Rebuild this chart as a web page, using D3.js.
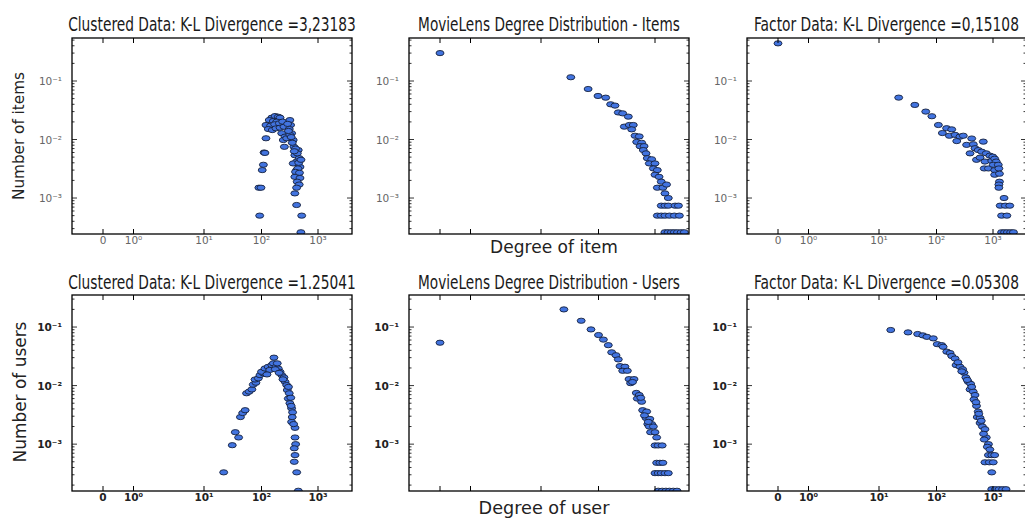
<!DOCTYPE html>
<html><head><meta charset="utf-8">
<script src="https://cdn.jsdelivr.net/npm/d3@7"></script>
<style>body{margin:0;background:#fff}</style>
</head><body><svg id="c" width="1025" height="521"></svg>
<script>
// ---- data: [degree, fraction] ----
const clusteredItems = [[93,0.0005],[90,0.0015],[98,0.0015],[103,0.0030],[108,0.0037],[111,0.0060],[115,0.0059],[120,0.0105],
 [152,0.0236],[174,0.0252],[198,0.0245],[213,0.0236],[137,0.0215],[162,0.0207],[186,0.0202],[120,0.0177],[145,0.0172],[171,0.0182],[207,0.0189],[237,0.0202],[132,0.0151],[155,0.0145],[181,0.0155],[213,0.0159],[250,0.0165],[228,0.0128],[261,0.0112],[243,0.0098],[279,0.0105],[254,0.0075],
 [318,0.0215],[327,0.0177],[310,0.0151],[341,0.0128],[318,0.0120],[364,0.0098],[375,0.0075],[447,0.0066],[389,0.0054],[465,0.0048],[418,0.0042],[364,0.0039],[480,0.0034],[418,0.0030],[447,0.0026],[389,0.0023],[480,0.0022],[428,0.0019],[465,0.0017],[418,0.0015],[389,0.0012],[418,0.00076],[515,0.0005],[498,0.00026],
 [290,0.0185],[300,0.0140],[335,0.0110],[350,0.0088],[400,0.0070],[430,0.0058],[455,0.0040],[440,0.0032],[400,0.0028],[470,0.0027],[500,0.0045],[380,0.0063]];
const movielensItems = [[0,0.30],[33,0.116],[66,0.073],[98,0.0555],[134,0.0519],[164,0.040],[196,0.038],[224,0.029],[268,0.028],[337,0.0246],[286,0.0166],[351,0.0177],[413,0.0177],[387,0.0149],[443,0.0116],[526,0.0113],[474,0.0091],[580,0.0088],[543,0.0077],[640,0.0077],[621,0.0066],[693,0.0058],[731,0.0048],[873,0.0046],[793,0.0039],[1000,0.0039],[936,0.0032],[1100,0.0030],[1000,0.0025],[1180,0.0023],[1290,0.0019],[1100,0.0015],[1380,0.0015],[1600,0.0017],[1500,0.0012],[1720,0.0010],
 [1290,0.00074],[1500,0.00074],[1720,0.00074],[2270,0.00074],[2600,0.00074],
 [1100,0.0005],[1290,0.0005],[1500,0.0005],[1800,0.0005],[2200,0.0005],[2700,0.0005],
 [1500,0.00026],[1700,0.00026],[1950,0.00026],[2200,0.00026],[2500,0.00026],[2900,0.00026],[3300,0.00026]];
const factorItems = [[0,0.44],[22,0.052],[42,0.039],[65,0.030],[83,0.025],[108,0.0177],[127,0.0129],[151,0.0156],[186,0.0149],[169,0.0116],[213,0.012],[260,0.0112],[298,0.0116],[228,0.0094],[341,0.0081],[420,0.0104],[673,0.0092],[448,0.0083],[392,0.0058],[480,0.0071],[548,0.0066],[630,0.0062],[760,0.0058],[510,0.0045],[590,0.0049],[720,0.0042],[880,0.0053],[990,0.0051],[950,0.0043],[1070,0.0047],[1140,0.0042],[700,0.0032],[830,0.0032],[1010,0.0037],[1240,0.0037],[1070,0.0030],[1270,0.0032],[1070,0.0025],[1300,0.0026],[1300,0.0019],[1270,0.0017],[1270,0.0015],[1570,0.0010],[1340,0.00074],[1650,0.00074],[1980,0.00074],[1420,0.0005],[1760,0.0005],[1420,0.00026],[1600,0.00026],[1800,0.00026],[2050,0.00026],[2300,0.00026]];
const clusteredUsers = [[22,0.00033],[31,0.00096],[40,0.0013],[35,0.0016],[43,0.0029],[47,0.0034],[52,0.0038],[55,0.0074],[61,0.0079],[68,0.0086],[72,0.0104],[80,0.0112],[77,0.0127],[88,0.0133],[94,0.0151],[108,0.0162],[100,0.0172],[115,0.0196],[131,0.0209],[152,0.0224],[166,0.030],[162,0.024],[181,0.0209],[198,0.0196],[213,0.0172],[228,0.0151],[250,0.0138],[261,0.0116],[279,0.0102],[286,0.0084],[310,0.0074],[298,0.0060],[318,0.0050],[341,0.0041],[355,0.0035],[341,0.0024],[392,0.0019],[392,0.0013],[402,0.0010],[380,0.00085],[392,0.00065],[380,0.00050],[420,0.00033],[448,0.00016],
 [140,0.0185],[175,0.0190],[205,0.0165],[240,0.0128],[300,0.0095],[330,0.0062],[350,0.0029],[370,0.0022],[335,0.0045],[125,0.0155],[190,0.024]];
const movielensUsers = [[0,0.054],[25,0.20],[50,0.128],[74,0.091],[100,0.073],[122,0.061],[149,0.049],[171,0.037],[204,0.033],[224,0.028],[240,0.0215],[294,0.021],[268,0.0179],[324,0.0179],[347,0.0129],[425,0.0129],[370,0.011],[467,0.0075],[526,0.0069],[486,0.0060],[580,0.0053],[605,0.0038],[712,0.0036],[693,0.0028],[810,0.0027],[745,0.0022],[873,0.0022],[793,0.0020],[936,0.0020],[835,0.0016],[1000,0.0016],[1070,0.0013],
 [1000,0.00095],[1140,0.00095],[1340,0.00095],[1070,0.00048],[1220,0.00048],[1380,0.00048],[1000,0.00032],[1140,0.00032],[1290,0.00032],[1500,0.00032],[1720,0.00032],
 [1140,0.00016],[1340,0.00016],[1560,0.00016],[1800,0.00016],[2100,0.00016],[2450,0.00016],[400,0.0115],[560,0.0062],[650,0.0031],[760,0.0024]];
const factorUsers = [[16,0.089],[32,0.081],[47,0.076],[58,0.072],[68,0.068],[88,0.064],[103,0.051],[124,0.049],[131,0.046],[152,0.038],[174,0.036],[186,0.032],[213,0.029],[222,0.0224],[260,0.021],[290,0.019],[307,0.0166],[331,0.0138],[365,0.0116],[402,0.0107],[392,0.0086],[446,0.0079],[480,0.0069],[460,0.0058],[510,0.0045],[548,0.0036],[526,0.0029],[590,0.0028],[590,0.0023],[650,0.0020],[720,0.0018],[760,0.0013],[700,0.0012],[830,0.0010],[793,0.00090],[880,0.00081],[830,0.00065],[950,0.00065],[1070,0.00065],[720,0.00049],[860,0.00049],[1010,0.00049],[950,0.00033],[950,0.00017],[1100,0.00017],[1280,0.00017],[1480,0.00017],[1700,0.00017],
 [240,0.025],[280,0.0175],[350,0.0125],[420,0.0095],[500,0.0052],[560,0.0033],[620,0.0025],[680,0.0015]];

const titles = ["Clustered Data: K-L Divergence =3,23183","MovieLens Degree Distribution - Items","Factor Data: K-L Divergence =0,15108",
                "Clustered Data: K-L Divergence =1.25041","MovieLens Degree Distribution - Users","Factor Data: K-L Divergence =0.05308"];
const xTickValues = [0,1,10,100,1000];
const xTickLabels = ["0","10⁰","10¹","10²","10³"];
const yTickValues = [0.1,0.01,0.001];
const yTickLabels = ["10⁻¹","10⁻²","10⁻³"];
const yLabels = ["Number of items","Number of users"];
const xLabels = ["Degree of item","Degree of user"];

// ---- layout ----
const svg = d3.select("#c");
const colX = [72,409,747], colW = [280,280,279], rowY = [38,295], H = 196;
const yLogDomains = [[-3.615,-0.265],[-3.80,-0.453]];
const xAnchors = [31,61.5,132,189.5,246];
const titleW = [[288,262,265],[288,262,265]];
const toLog = d => d === 0 ? -1 : Math.log10(d);
const panels = [clusteredItems,movielensItems,factorItems,clusteredUsers,movielensUsers,factorUsers];
const titleFont = "'Liberation Sans Narrow','DejaVu Sans Condensed','Arial Narrow',sans-serif";
const fontMain = "'DejaVu Sans',sans-serif";

function fitText(sel, target, size) {
  sel.attr("font-size", size);
  const w = sel.node().getComputedTextLength();
  if (w > 0) sel.attr("font-size", size * target / w);
  return sel;
}
// keep glyph height, squeeze horizontally to the target width
function squeezeText(sel, cx, y, target, size) {
  sel.attr("font-size", size).attr("x",0).attr("y",0);
  const w = sel.node().getComputedTextLength();
  const s = w > 0 ? Math.min(1, target / w) : 1;
  sel.attr("transform", `translate(${cx},${y}) scale(${s},1)`);
  return sel;
}

panels.forEach((data,i) => {
  const r = Math.floor(i/3), c = i%3;
  const x0 = colX[c], y0 = rowY[r], W = colW[c];
  const xs = d3.scaleLinear().domain([-1,0,1,2,3]).range(xAnchors.map(v=>x0+v));
  const ys = d3.scaleLog().domain(yLogDomains[r].map(v=>Math.pow(10,v))).range([y0+H,y0]);
  const g = svg.append("g");
  const cid = "clip"+i;
  svg.append("clipPath").attr("id",cid).append("rect").attr("x",x0).attr("y",y0).attr("width",W).attr("height",H);
  g.append("g").attr("clip-path",`url(#${cid})`).selectAll("ellipse").data(data).join("ellipse")
    .attr("cx",d=>xs(toLog(d[0]))).attr("cy",d=>ys(d[1])).attr("rx",4).attr("ry",2.6)
    .attr("fill","#4274e0").attr("stroke","#16213d").attr("stroke-width",0.9);
  g.append("rect").attr("x",x0).attr("y",y0).attr("width",W).attr("height",H)
    .attr("fill","none").attr("stroke","#000").attr("stroke-width",1.3);
  xTickValues.forEach((v,k) => {
    const px = xs(toLog(v));
    g.append("line").attr("x1",px).attr("x2",px).attr("y1",y0).attr("y2",y0+5).attr("stroke","#000");
    g.append("line").attr("x1",px).attr("x2",px).attr("y1",y0+H).attr("y2",y0+H-5).attr("stroke","#000");
    if (c !== 1) {
      g.append("text").attr("x",px).attr("y",y0+H+10).attr("text-anchor","middle")
        .attr("font-family",fontMain).attr("font-size",10.5).attr("fill",r===0?"#666":"#222")
        .attr("font-weight",r===0?"normal":"bold").text(xTickLabels[k]);
    }
  });
  const [lo,hi] = yLogDomains[r];
  for (let e = Math.floor(lo); e <= Math.ceil(hi); e++) {
    for (let m = 1; m <= 9; m++) {
      const v = m*Math.pow(10,e);
      const lv = Math.log10(v);
      if (lv < lo || lv > hi) continue;
      const py = ys(v), len = m === 1 ? 5 : 2.5;
      g.append("line").attr("x1",x0).attr("x2",x0+len).attr("y1",py).attr("y2",py).attr("stroke","#000").attr("stroke-width",0.8);
      g.append("line").attr("x1",x0+W).attr("x2",x0+W-len).attr("y1",py).attr("y2",py).attr("stroke","#000").attr("stroke-width",0.8);
    }
  }
  yTickValues.forEach((v,k) => {
    g.append("text").attr("x",x0-10).attr("y",ys(v)+4).attr("text-anchor","end")
      .attr("font-family",fontMain).attr("font-size",10.5).attr("fill",r===0?"#666":"#222")
      .attr("font-weight",r===0?"normal":"bold").text(yTickLabels[k]);
  });
  const t = svg.append("text").attr("text-anchor","middle")
    .attr("font-family",titleFont).attr("font-stretch","condensed").attr("fill","#1a1a1a").text(titles[i]);
  squeezeText(t, x0+W/2, r===0?30.5:289, titleW[r][c], 19.5);
});

fitText(svg.append("text").attr("transform","translate(24,136) rotate(-90)").attr("text-anchor","middle")
  .attr("font-family",fontMain).attr("fill","#222").text(yLabels[0]), 128, 15);
fitText(svg.append("text").attr("transform","translate(26,392) rotate(-90)").attr("text-anchor","middle")
  .attr("font-family",fontMain).attr("fill","#222").text(yLabels[1]), 141, 17);
fitText(svg.append("text").attr("x",554).attr("y",253).attr("text-anchor","middle")
  .attr("font-family",fontMain).attr("fill","#222").text(xLabels[0]), 128, 17);
fitText(svg.append("text").attr("x",544).attr("y",514).attr("text-anchor","middle")
  .attr("font-family",fontMain).attr("fill","#222").text(xLabels[1]), 131, 19);
</script></body></html>
